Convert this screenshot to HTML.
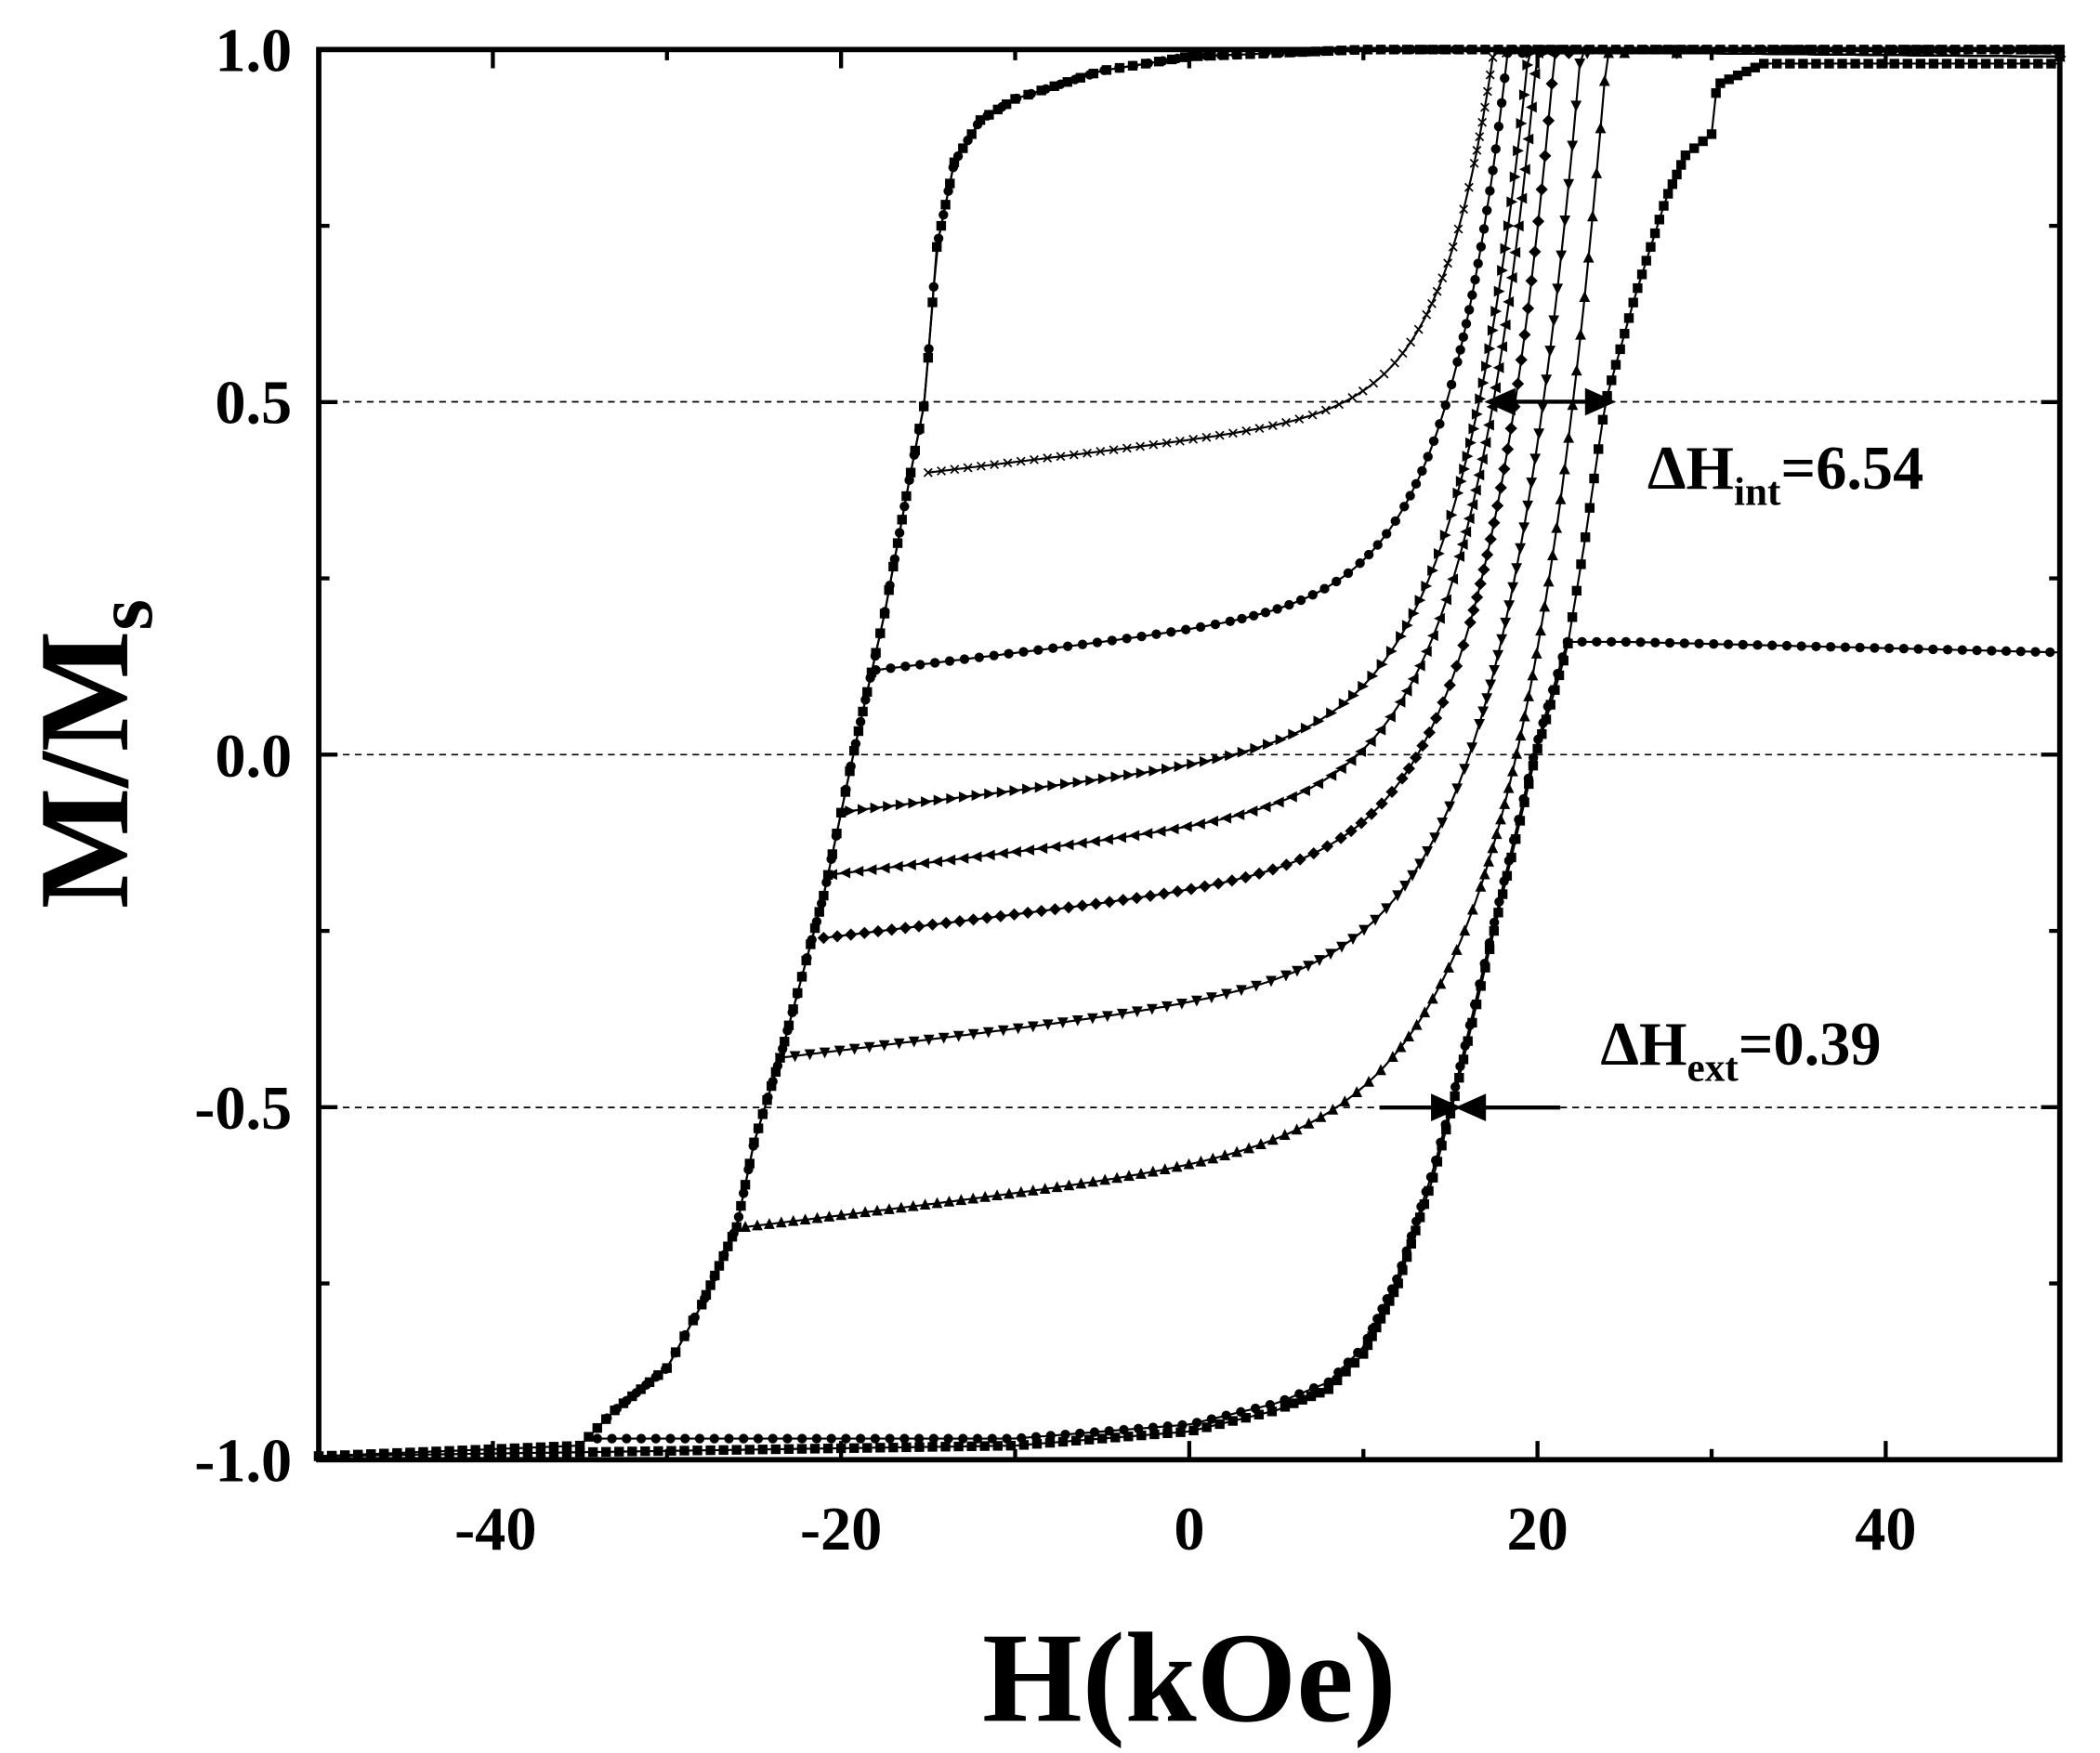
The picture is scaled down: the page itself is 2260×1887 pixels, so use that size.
<!DOCTYPE html>
<html><head><meta charset="utf-8"><style>
html,body{margin:0;padding:0;background:#fff;}
svg{display:block}
text{font-family:"Liberation Serif",serif;font-weight:bold;fill:#000}
</style></head><body>
<svg id="s" width="2260" height="1887" viewBox="0 0 1568 1309" preserveAspectRatio="none" xmlns="http://www.w3.org/2000/svg">
<rect width="1568" height="1309" fill="#fff"/>
<g stroke="#000" stroke-width="1.2" stroke-dasharray="5,4">
<line x1="238" y1="300" x2="1538" y2="300"/>
<line x1="238" y1="563.5" x2="1538" y2="563.5"/>
<line x1="238" y1="827" x2="1538" y2="827"/>
</g>
<g id="data"></g>
<rect x="238" y="37" width="1300" height="1053" fill="none" stroke="#000" stroke-width="4"/>
<g id="ticks" stroke="#000" stroke-width="3"></g>
<g font-size="46" text-anchor="end">
<text x="218" y="53">1.0</text>
<text x="218" y="316">0.5</text>
<text x="218" y="580">0.0</text>
<text x="218" y="843">-0.5</text>
<text x="218" y="1106">-1.0</text>
</g>
<g font-size="46" text-anchor="middle">
<text x="370" y="1157">-40</text>
<text x="628" y="1157">-20</text>
<text x="888" y="1157">0</text>
<text x="1148" y="1157">20</text>
<text x="1408" y="1157">40</text>
</g>
<text x="888" y="1285" font-size="96" text-anchor="middle">H(kOe)</text>
<text transform="translate(95,563) rotate(-90)" font-size="96" text-anchor="middle">M/M<tspan font-size="60" dy="18">s</tspan></text>
<text x="1230" y="365" font-size="46">ΔH<tspan font-size="30" dy="12">int</tspan><tspan dy="-12">=6.54</tspan></text>
<text x="1195" y="795" font-size="46">ΔH<tspan font-size="30" dy="12">ext</tspan><tspan dy="-12">=0.39</tspan></text>
<g stroke="#000" stroke-width="3" fill="#000">
<line x1="1120" y1="300" x2="1195" y2="300"/>
<polygon points="1112,300 1130,292 1130,308"/>
<polygon points="1203,300 1185,292 1185,308"/>
<line x1="1030" y1="827" x2="1080" y2="827"/>
<polygon points="1088,827 1070,819 1070,835"/>
<line x1="1100" y1="827" x2="1165" y2="827"/>
<polygon points="1090,827 1108,819 1108,835"/>
</g>
</svg>
<script>
var NS="http://www.w3.org/2000/svg";
function px(h){return 888+13*h;} function py(m){return 563.5-526.5*m;}
var g=document.getElementById('data'),tk=document.getElementById('ticks');
function el(n,a,p){var e=document.createElementNS(NS,n);for(var k in a)e.setAttribute(k,a[k]);(p||g).appendChild(e);return e;}
for(var h=-50;h<=50;h+=10){var x=px(h),L=(h%20==0)?14:8;el('line',{x1:x,y1:1090,x2:x,y2:1090-L},tk);el('line',{x1:x,y1:37,x2:x,y2:37+L},tk);}
for(var m=-1;m<=1.001;m+=0.25){var y=py(m),L=(Math.abs(m*2-Math.round(m*2))<1e-6)?14:8;el('line',{x1:238,y1:y,x2:238+L,y2:y},tk);el('line',{x1:1538,y1:y,x2:1538-L,y2:y},tk);}
function interp(pts,h){for(var i=0;i<pts.length-1;i++){var a=pts[i],b=pts[i+1];if(h>=a[0]&&h<=b[0])return a[1]+(b[1]-a[1])*(h-a[0])/(b[0]-a[0]);}return pts[pts.length-1][1];}
var desc=[[-50,-0.995],[-35,-0.98],[-33,-0.93],[-30,-0.87],[-28,-0.78],[-26,-0.67],[-25,-0.55],[-23.5,-0.43],[-21,-0.2],[-19.3,0],[-17.5,0.2],[-16,0.4],[-15.2,0.5],[-14.5,0.72],[-13.5,0.84],[-12,0.9],[-10,0.93],[-5,0.97],[0,0.99],[10,1],[50,1]];
var asc=[[-50,-0.995],[-10,-0.98],[0,-0.96],[5,-0.93],[8,-0.9],[10,-0.85],[12,-0.75],[14,-0.6],[15.1,-0.5],[17.5,-0.25],[19.9,0],[21.7,0.15],[22.7,0.3],[23.9,0.5],[25.6,0.65],[27.4,0.79],[28.5,0.85],[30,0.88],[30.3,0.95],[33,0.98],[50,0.98]];
function draw(pts,shape,step){var d='';pts.forEach(function(p,i){d+=(i?'L':'M')+px(p[0]).toFixed(1)+','+py(p[1]).toFixed(1);});
el('path',{d:d,fill:'none',stroke:'#000','stroke-width':1.5});
var last=null;pts.forEach(function(p){var x=px(p[0]),y=py(p[1]);if(last&&Math.hypot(x-last[0],y-last[1])<step)return;last=[x,y];mk(x,y,shape);});}
function mk(x,y,s){var r=3.6;
if(s=='c')el('circle',{cx:x,cy:y,r:r});
else if(s=='sq')el('rect',{x:x-r,y:y-r,width:2*r,height:2*r});
else if(s=='up')el('polygon',{points:(x)+','+(y-r-1)+' '+(x-r-0.5)+','+(y+r)+' '+(x+r+0.5)+','+(y+r)});
else if(s=='dn')el('polygon',{points:(x)+','+(y+r+1)+' '+(x-r-0.5)+','+(y-r)+' '+(x+r+0.5)+','+(y-r)});
else if(s=='rt')el('polygon',{points:(x+r+1)+','+y+' '+(x-r)+','+(y-r-0.5)+' '+(x-r)+','+(y+r+0.5)});
else if(s=='lt')el('polygon',{points:(x-r-1)+','+y+' '+(x+r)+','+(y-r-0.5)+' '+(x+r)+','+(y+r+0.5)});
else if(s=='dm')el('polygon',{points:x+','+(y-r-1)+' '+(x+r+1)+','+y+' '+x+','+(y+r+1)+' '+(x-r-1)+','+y});
else {el('line',{x1:x-3,y1:y-3,x2:x+3,y2:y+3,stroke:'#000','stroke-width':1.2});el('line',{x1:x-3,y1:y+3,x2:x+3,y2:y-3,stroke:'#000','stroke-width':1.2});}}
function samp(f,a,b,n){var r=[];for(var i=0;i<=n;i++){var h=a+(b-a)*i/n;r.push([h,f(h)]);}return r;}
draw(samp(function(h){return interp(desc,h);},50,-50,400).reverse(),'sq',7);
draw(samp(function(h){return interp(asc,h);},-50,50,400),'sq',7);
draw(samp(function(h){return interp(desc,h);},50,-34,300).reverse(),'c',9);
draw(samp(function(h){var base=interp(asc,h)+0.01;return h<21.7?Math.max(base,-0.97):0.16-0.0006*(h-25)*(h>25?1:0);},-34,50,300),'c',8);
var mins=[[0.4,-15,17.5,3,'x'],[0.12,-18,18.3,3.5,'c'],[-0.08,-19.5,19.5,4,'rt'],[-0.17,-20.5,20,4,'lt'],[-0.26,-21,21,4,'dm'],[-0.43,-23.5,22.5,4.5,'dn'],[-0.67,-25.5,24,5,'up']];
mins.forEach(function(c){var M0=c[0],H0=c[1],Hs=c[2],w=c[3],s=0.003;
var A=1-M0-s*(Hs-H0);
var f=function(h){var v=M0+s*(h-H0)+A*Math.exp((h-Hs)/w);return Math.min(0.995,v);};
var pts=samp(f,H0,Hs+1,220);pts.push([28,0.995]);pts.push([50,0.99]);
draw(pts,c[4],9);});
</script>
</body></html>
